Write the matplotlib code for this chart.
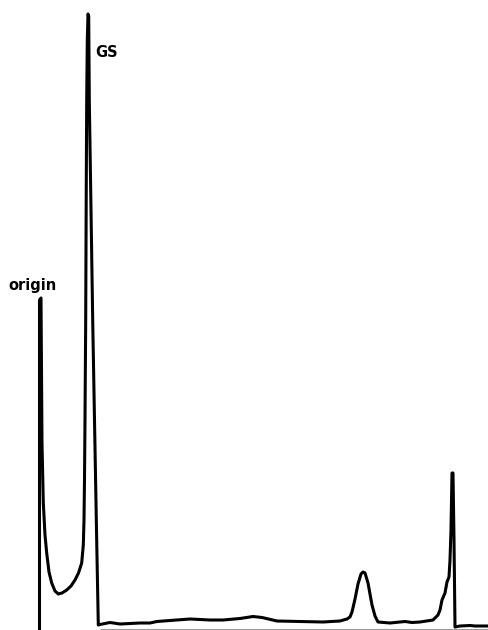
import matplotlib
matplotlib.use("Agg")
import matplotlib.pyplot as plt

# Densitometer scan: position along strip vs. recorder deflection (pixel-like units)
scan_pos = [39.5, 39.5, 41, 41.7, 42, 43.3, 45, 46.7, 49, 51.7, 55, 58.3, 62, 66.7, 71, 75,
            78.5, 81.7, 83.3, 84, 84.5, 85, 85.7, 86.2, 86.7, 87.3, 88, 88.7, 89.3, 91, 92.7,
            94.5, 96.5, 98.3, 100, 110, 120, 140, 150, 157, 170, 190, 210, 223, 240, 253,
            262, 277, 300, 323, 340, 347, 350, 352, 355, 358, 361, 363, 365, 368, 370, 372,
            375, 378, 390, 400, 405, 412, 420, 433, 438, 440, 442, 445, 447, 449, 450, 451,
            452, 453, 454, 455, 460, 470, 475, 489]
deflection = [-2, 330, 332, 230, 187, 127, 95, 77, 58, 47, 39, 36, 37, 40, 44, 50,
              57, 67, 85, 110, 150, 210, 310, 430, 530, 590, 616, 614, 530, 420, 310,
              210, 100, 5, 5.5, 7.5, 6, 7, 7, 8.5, 9.5, 11, 10, 10, 11.5, 13.5,
              12.5, 9, 8.5, 8, 9, 11, 13, 18, 31, 46, 56, 58, 57, 47, 36, 25,
              14, 8, 7, 8, 8.5, 7.5, 8, 10, 15, 20, 30, 37, 48, 53, 70, 100,
              157, 157, 90, 3, 4, 4.5, 4, 4]

peak_labels = ["origin", "GS"]
label_pos = [(8, 340), (95, 573)]

fig = plt.figure(figsize=(4.89, 6.30), dpi=100)
ax = fig.add_axes([0, 0, 1, 1])
ax.set_xlim(0, 489)
ax.set_ylim(0, 630)
ax.axis("off")

# faint chart-paper edge under the baseline
ax.plot([100, 489], [1.5, 1.5], color="#9a9a9a", lw=0.8, solid_capstyle="butt")

ax.plot(scan_pos, deflection, color="black", lw=2.2, solid_joinstyle="round",
        solid_capstyle="round")

for lab, (lx, ly) in zip(peak_labels, label_pos):
    ax.text(lx, ly, lab, fontsize=10.5, fontweight="bold", ha="left", va="baseline",
            color="black")

fig.savefig("out.png", dpi=100)
